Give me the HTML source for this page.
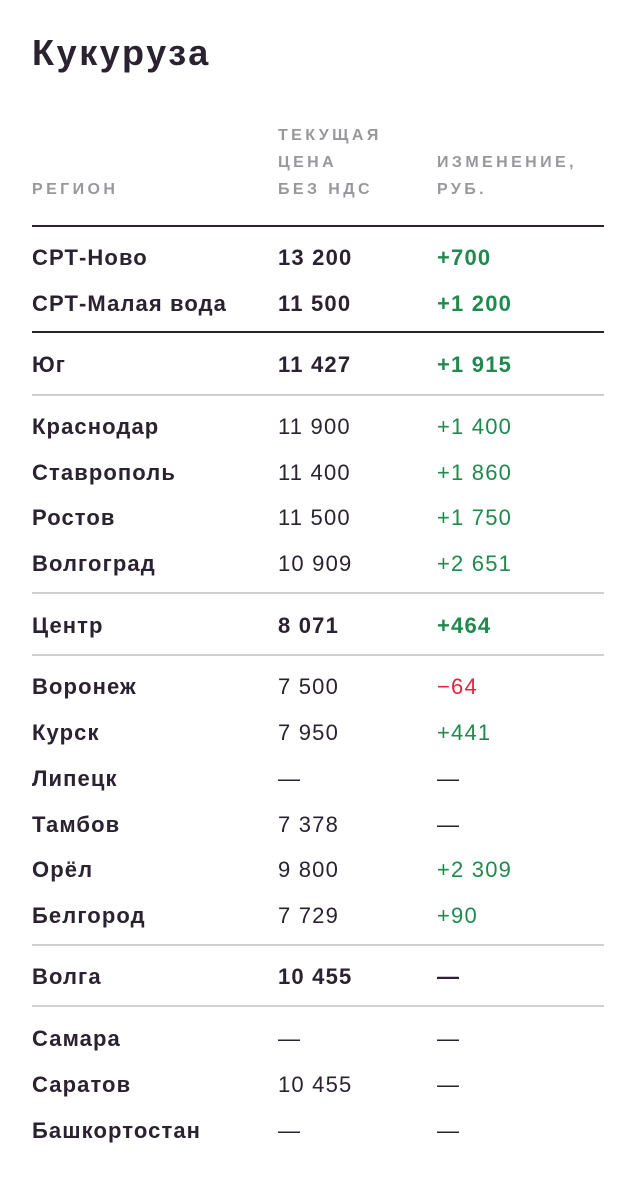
<!DOCTYPE html>
<html><head><meta charset="utf-8"><style>
body{margin:0;width:636px;height:1200px;background:#fff;position:relative;font-family:"Liberation Sans",sans-serif;color:#2a2230;overflow:hidden}
.t{position:absolute;left:32px;top:33px;font-size:36px;font-weight:bold;letter-spacing:2.6px;line-height:40px}
.h{position:absolute;font-size:16px;letter-spacing:3.4px;color:#9a979c;line-height:27px;font-weight:bold}
.r{position:absolute;left:0;width:636px;height:24px;line-height:24px;font-size:22px}
.r span{position:absolute;top:0;white-space:nowrap}
.a{left:32px;font-weight:bold;letter-spacing:1.1px}
.b{left:278px;letter-spacing:1.2px}
.c{left:437px;letter-spacing:1.2px}
.bb{font-weight:bold}
.g{color:#1e8a4c}
.red{color:#e0243f}
.l{position:absolute;left:32px;width:572px;height:2px;background:#d0d0d0}
.d{background:#2a2230}
</style></head><body>
<div class="t">Кукуруза</div>
<div class="h" style="left:32px;top:176px">РЕГИОН</div>
<div class="h" style="left:278px;top:122px">ТЕКУЩАЯ<br>ЦЕНА<br>БЕЗ НДС</div>
<div class="h" style="left:437px;top:149px">ИЗМЕНЕНИЕ,<br>РУБ.</div>
<div class="l d" style="top:225px"></div>
<div class="r" style="top:246px"><span class="a">СРТ-Ново</span><span class="b bb">13 200</span><span class="c bb g">+700</span></div>
<div class="r" style="top:292px"><span class="a">СРТ-Малая вода</span><span class="b bb">11 500</span><span class="c bb g">+1 200</span></div>
<div class="l d" style="top:331px"></div>
<div class="r" style="top:353px"><span class="a">Юг</span><span class="b bb">11 427</span><span class="c bb g">+1 915</span></div>
<div class="l" style="top:394px"></div>
<div class="r" style="top:415px"><span class="a">Краснодар</span><span class="b">11 900</span><span class="c g">+1 400</span></div>
<div class="r" style="top:461px"><span class="a">Ставрополь</span><span class="b">11 400</span><span class="c g">+1 860</span></div>
<div class="r" style="top:506px"><span class="a">Ростов</span><span class="b">11 500</span><span class="c g">+1 750</span></div>
<div class="r" style="top:552px"><span class="a">Волгоград</span><span class="b">10 909</span><span class="c g">+2 651</span></div>
<div class="l" style="top:592px"></div>
<div class="r" style="top:614px"><span class="a">Центр</span><span class="b bb">8 071</span><span class="c bb g">+464</span></div>
<div class="l" style="top:654px"></div>
<div class="r" style="top:675px"><span class="a">Воронеж</span><span class="b">7 500</span><span class="c red">−64</span></div>
<div class="r" style="top:721px"><span class="a">Курск</span><span class="b">7 950</span><span class="c g">+441</span></div>
<div class="r" style="top:767px"><span class="a">Липецк</span><span class="b">—</span><span class="c">—</span></div>
<div class="r" style="top:813px"><span class="a">Тамбов</span><span class="b">7 378</span><span class="c">—</span></div>
<div class="r" style="top:858px"><span class="a">Орёл</span><span class="b">9 800</span><span class="c g">+2 309</span></div>
<div class="r" style="top:904px"><span class="a">Белгород</span><span class="b">7 729</span><span class="c g">+90</span></div>
<div class="l" style="top:944px"></div>
<div class="r" style="top:965px"><span class="a">Волга</span><span class="b bb">10 455</span><span class="c bb">—</span></div>
<div class="l" style="top:1005px"></div>
<div class="r" style="top:1027px"><span class="a">Самара</span><span class="b">—</span><span class="c">—</span></div>
<div class="r" style="top:1073px"><span class="a">Саратов</span><span class="b">10 455</span><span class="c">—</span></div>
<div class="r" style="top:1119px"><span class="a">Башкортостан</span><span class="b">—</span><span class="c">—</span></div>
</body></html>
